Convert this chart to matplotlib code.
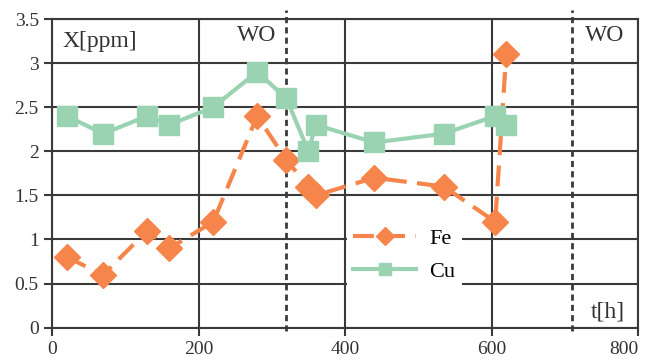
import matplotlib.pyplot as plt

# data
t = [20, 70, 130, 160, 220, 280, 320, 350, 360, 440, 535, 605, 620]
fe = [0.8, 0.6, 1.1, 0.9, 1.2, 2.4, 1.9, 1.6, 1.5, 1.7, 1.6, 1.2, 3.1]
cu = [2.4, 2.2, 2.4, 2.3, 2.5, 2.9, 2.6, 2.0, 2.3, 2.1, 2.2, 2.4, 2.3]
wo_times = [320, 710]

plt.rcParams['font.family'] = ['Liberation Serif', 'DejaVu Serif']
plt.rcParams['font.size'] = 14

orange = '#F5854A'
green = '#9AD3B1'
grid_c = '#3a3a3a'
txt_c = '#333333'

fig = plt.figure(figsize=(6.52, 3.62), dpi=100)
ax = fig.add_axes([0.0798, 0.0948, 0.8988, 0.8527])

ax.plot(t, fe, color=orange, lw=3, ls=(0, (5, 2.5)), marker='D', ms=13,
        label='Fe', zorder=3)
ax.plot(t, cu, color=green, lw=3, marker='s', ms=14, label='Cu', zorder=3)

for w in wo_times:
    ax.plot([w, w], [-0.04, 3.6], color=grid_c, lw=2, ls=(0, (2.2, 1.5)),
            clip_on=False, zorder=2)

ax.set_xlim(0, 800)
ax.set_ylim(0, 3.5)
ax.set_xticks([0, 200, 400, 600, 800])
ax.set_yticks([0, 0.5, 1, 1.5, 2, 2.5, 3, 3.5])
ax.set_yticklabels(['0', '0.5', '1', '1.5', '2', '2.5', '3', '3.5'])
ax.grid(True, color=grid_c, lw=1.5)
ax.set_axisbelow(True)
for s in ax.spines.values():
    s.set_color(grid_c)
    s.set_linewidth(1.5)
ax.tick_params(colors=txt_c, length=6, width=1.5, color=grid_c, labelsize=14)
# last x label sits on the figure edge, keep it inside
ax.get_xticklabels()[-1].set_horizontalalignment('right')
ax.get_xticklabels()[-1].set_x(812)

ax.text(14, 3.24, 'X[ppm]', fontsize=17, color=txt_c, va='center')
ax.text(279, 3.31, 'WO', fontsize=17, color=txt_c, va='center', ha='center')
ax.text(755, 3.31, 'WO', fontsize=17, color=txt_c, va='center', ha='center')
ax.text(782, 0.18, 't[h]', fontsize=17, color=txt_c, va='center', ha='right')

leg = ax.legend(loc='center left', bbox_to_anchor=(0.503, 0.235), frameon=True,
                fancybox=False, edgecolor='none', framealpha=1,
                handlelength=2.8, handletextpad=0.6, labelspacing=0.55,
                fontsize=16, borderaxespad=0, borderpad=0.3)
leg.get_frame().set_linewidth(0)
for h in leg.legend_handles:
    h.set_markersize(9)

fig.savefig('out.png', dpi=100)
